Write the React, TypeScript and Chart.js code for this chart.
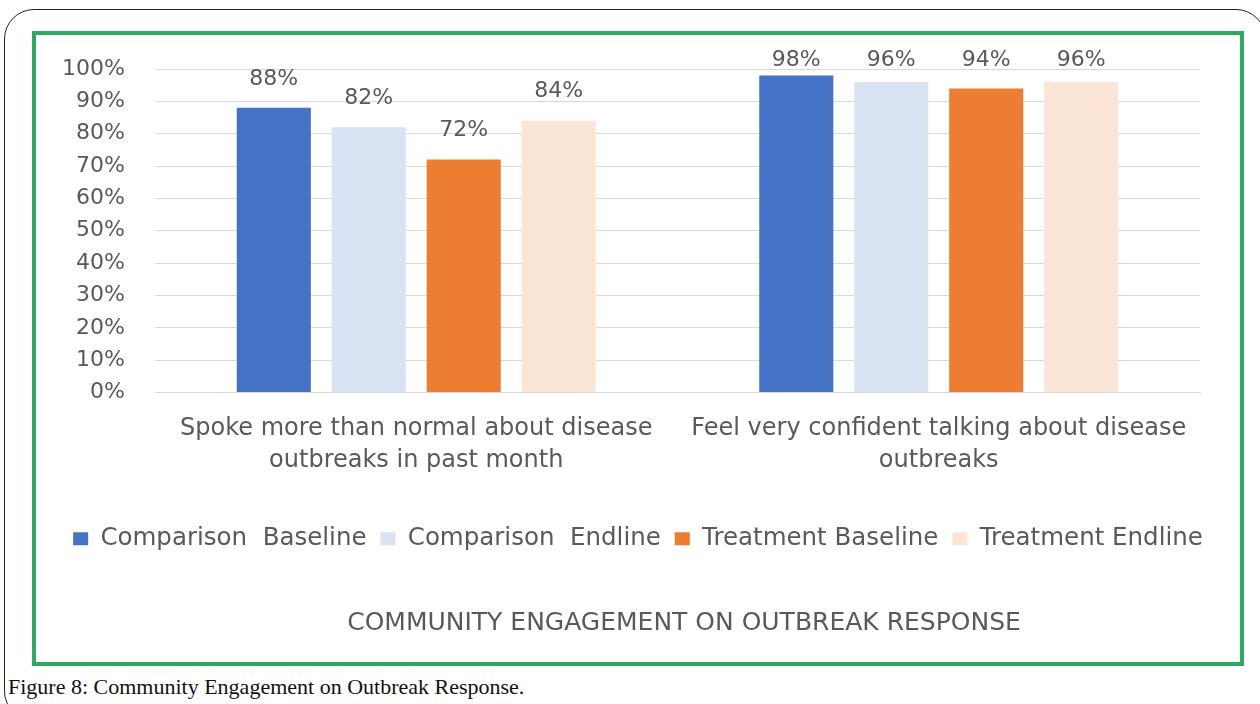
import React, { useEffect, useRef } from "react";
import { Chart, registerables } from "chart.js";

Chart.register(...registerables);

const categories: string[][] = [
  ["Spoke more than normal about disease", "outbreaks in past month"],
  ["Feel very confident talking about disease", "outbreaks"],
];
const seriesNames = [
  "Comparison  Baseline",
  "Comparison  Endline",
  "Treatment Baseline",
  "Treatment Endline",
];
const comparisonBaseline = [88, 98];
const comparisonEndline = [82, 96];
const treatmentBaseline = [72, 94];
const treatmentEndline = [84, 96];
const seriesColors = ["#4472c4", "#dae3f3", "#ed7d31", "#fbe5d6"];
const chartTitle = "COMMUNITY ENGAGEMENT ON OUTBREAK RESPONSE";
const caption = "Figure 8: Community Engagement on Outbreak Response.";

const FONT = "'DejaVu Sans', sans-serif";
const TEXT_GREY = "#595959";

// Percentage labels above each bar, kept from running above the plot top
const barValueLabels = {
  id: "barValueLabels",
  afterDatasetsDraw(chart: Chart) {
    const { ctx, chartArea } = chart;
    ctx.save();
    ctx.font = `22px ${FONT}`;
    ctx.fillStyle = TEXT_GREY;
    ctx.textAlign = "center";
    ctx.textBaseline = "middle";
    chart.data.datasets.forEach((ds, di) => {
      const meta = chart.getDatasetMeta(di);
      meta.data.forEach((bar: any, i) => {
        const v = ds.data[i] as number;
        const y = Math.max(bar.y - 29, chartArea.top - 9);
        ctx.fillText(`${v}%`, bar.x, y);
      });
    });
    ctx.restore();
  },
};

// The chart title sits a little right of the centre line
const titleOffset = {
  id: "titleOffset",
  afterLayout(chart: Chart) {
    const tb = (chart as any).titleBlock;
    if (tb) tb.left += 92;
  },
};

export default function App() {
  const canvasRef = useRef<HTMLCanvasElement | null>(null);

  useEffect(() => {
    if (!canvasRef.current) return;
    const chart = new Chart(canvasRef.current, {
      type: "bar",
      data: {
        labels: categories,
        datasets: [
          comparisonBaseline,
          comparisonEndline,
          treatmentBaseline,
          treatmentEndline,
        ].map((values, i) => ({
          label: seriesNames[i],
          data: values,
          backgroundColor: seriesColors[i],
          categoryPercentage: 0.727,
          barPercentage: 0.78,
        })),
      },
      options: {
        responsive: false,
        animation: false,
        layout: { padding: { top: 34, right: 0, left: 0, bottom: 0 } },
        scales: {
          x: {
            afterFit(scale: any) {
              // extra room between the category labels and the legend
              scale.height += 16;
            },
            grid: { display: false, drawTicks: false },
            border: { display: true, color: "#d9d9d9" },
            ticks: {
              color: TEXT_GREY,
              font: { family: FONT, size: 24, lineHeight: 32 / 24 },
              padding: 20,
              maxRotation: 0,
              autoSkip: false,
            },
          },
          y: {
            min: 0,
            max: 100,
            afterFit(scale: any) {
              scale.width = 119;
              // the label gap should not push the plot edges inward
              scale.paddingTop = 13;
              scale.paddingBottom = 13;
            },
            grid: { color: "#d9d9d9", drawTicks: false },
            border: { display: false },
            ticks: {
              stepSize: 10,
              padding: 30,
              color: TEXT_GREY,
              font: { family: FONT, size: 22 },
              callback: (v: any) => `${v}%`,
            },
          },
          // empty margin on the right of the plot
          gutter: {
            type: "linear",
            position: "right",
            afterFit(scale: any) {
              scale.width = 40;
              scale.paddingTop = 0;
              scale.paddingBottom = 0;
            },
            grid: { display: false, drawTicks: false },
            border: { display: false },
            ticks: { display: false },
          },
        },
        plugins: {
          legend: {
            position: "bottom",
            labels: {
              color: TEXT_GREY,
              font: { family: FONT, size: 24.5 },
              boxWidth: 15,
              boxHeight: 13,
              padding: 14,
            },
          },
          title: {
            display: true,
            position: "bottom",
            text: chartTitle,
            color: TEXT_GREY,
            font: { family: FONT, size: 25, weight: "normal" },
            padding: { top: 47, bottom: 24 },
          },
          tooltip: { enabled: false },
        },
      },
      plugins: [barValueLabels, titleOffset],
    });
    return () => chart.destroy();
  }, []);

  return (
    <div
      style={{
        position: "absolute",
        left: 0,
        top: 0,
        width: 1260,
        height: 704,
        overflow: "hidden",
        background: "#ffffff",
      }}
    >
      <div
        style={{
          position: "absolute",
          left: 4,
          top: 9,
          width: 1262,
          height: 712,
          border: "1px solid #222",
          borderRadius: 30,
          boxSizing: "border-box",
        }}
      />
      <div
        style={{
          position: "absolute",
          left: 32,
          top: 31,
          width: 1212,
          height: 635,
          border: "4px solid #2eaa62",
          boxSizing: "border-box",
          background: "#ffffff",
        }}
      >
        <canvas ref={canvasRef} width={1204} height={627} style={{ display: "block" }} />
      </div>
      <div
        style={{
          position: "absolute",
          left: 8,
          top: 674,
          fontFamily: "'Liberation Serif', serif",
          fontSize: 22,
          color: "#111",
          whiteSpace: "nowrap",
        }}
      >
        {caption}
      </div>
    </div>
  );
}
